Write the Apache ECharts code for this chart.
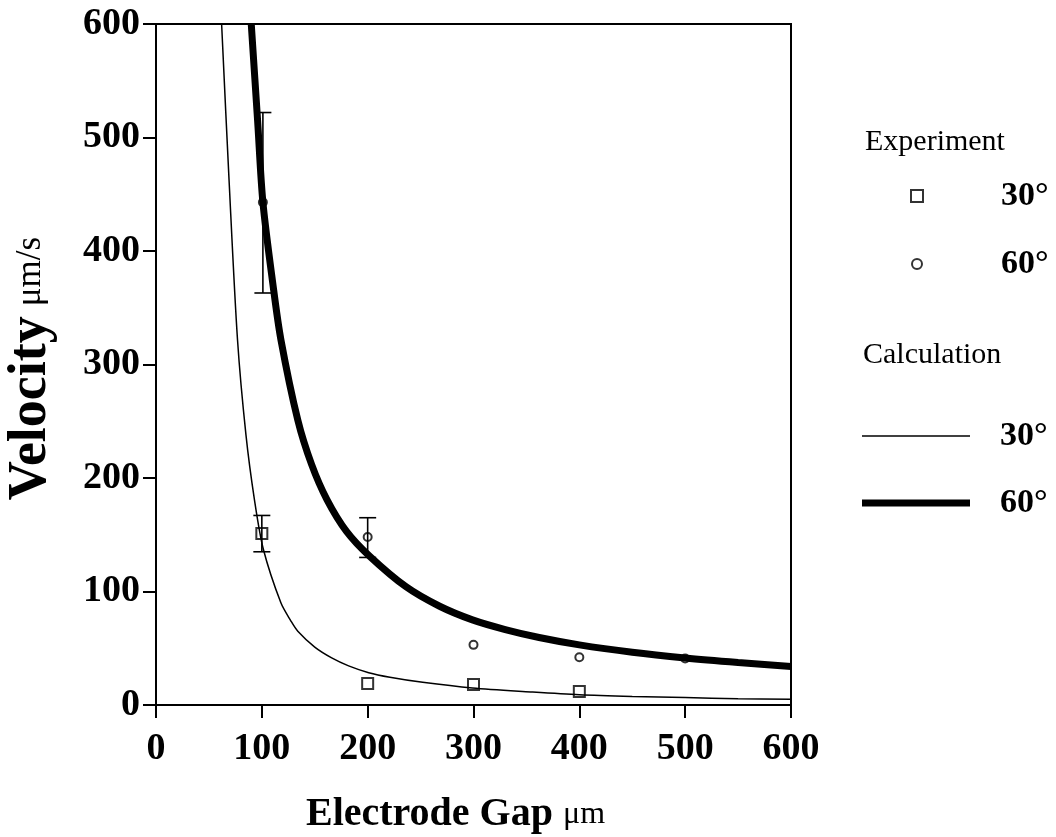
<!DOCTYPE html>
<html>
<head>
<meta charset="utf-8">
<script src="https://cdn.jsdelivr.net/npm/echarts@6/dist/echarts.min.js"></script>
<style>
html,body{margin:0;padding:0;background:#fff;}
#c{width:1056px;height:837px;}
</style>
</head>
<body>
<div id="c"></div>
<script>
// ---- data ----
const exp30X = [100, 200, 300, 400];
const exp30Y = [151, 19, 18, 12];
const exp60X = [101, 200, 300, 400, 500];
const exp60Y = [443, 148, 53, 42, 41];
const err30X = [100];
const err30Lo = [135];
const err30Hi = [167];
const err60X = [101, 200];
const err60Lo = [363, 130];
const err60Hi = [522, 165];
const calc30X = [62, 69, 77, 85, 93, 101.5, 118, 127.5, 134, 150, 166, 182, 201, 221, 252, 299, 354, 400, 450, 500, 550, 600];
const calc30Y = [600, 463, 322, 238, 181, 137, 90, 74, 65, 51, 41.5, 34.5, 28.5, 24.5, 20, 15, 11.5, 9, 7.5, 6.5, 5.6, 5];
const calc60X = [90, 96, 101, 110.7, 118, 134, 147, 161.5, 180, 202, 236.5, 268, 299, 330, 362, 400, 450, 500, 550, 600];
const calc60Y = [600, 515, 443, 369, 322, 251, 212, 181, 153, 131, 104, 87, 75, 66.5, 59.5, 53, 46.5, 41.5, 37.5, 34];
const xTicks = [0, 100, 200, 300, 400, 500, 600];

const zip = (a, b) => a.map((v, i) => [v, b[i]]);
const zip3 = (a, b, c) => a.map((v, i) => [v, b[i], c[i]]);

const serif = '"Liberation Serif", "DejaVu Serif", serif';
const chart = echarts.init(document.getElementById('c'));

function errItem(params, api) {
  const x = api.value(0);
  const lo = api.coord([x, api.value(1)]);
  const hi = api.coord([x, api.value(2)]);
  const w = 8.5;
  const st = {stroke: '#000', lineWidth: 1.6};
  return {
    type: 'group',
    children: [
      {type: 'line', shape: {x1: lo[0], y1: lo[1], x2: hi[0], y2: hi[1]}, style: st},
      {type: 'line', shape: {x1: lo[0] - w, y1: lo[1], x2: lo[0] + w, y2: lo[1]}, style: st},
      {type: 'line', shape: {x1: hi[0] - w, y1: hi[1], x2: hi[0] + w, y2: hi[1]}, style: st}
    ]
  };
}

const legText = {fontFamily: serif, fontWeight: 'bold', fontSize: 34, color: '#000'};

chart.setOption({
  backgroundColor: '#fff',
  animation: false,
  grid: {left: 156, right: 265, top: 24, bottom: 132, show: true, borderColor: '#000', borderWidth: 2,
         containLabel: false, outerBoundsMode: 'none'},
  title: [
    {text: 'Experiment', left: 860, top: 122, textStyle: {fontFamily: serif, fontWeight: 'normal', fontSize: 30, color: '#000'}},
    {text: 'Calculation', left: 858, top: 335, textStyle: {fontFamily: serif, fontWeight: 'normal', fontSize: 30, color: '#000'}}
  ],
  legend: [
    {data: ['Experiment 30°'], left: 905, top: 174, itemWidth: 12, itemHeight: 12, formatter: () => '30°',
     textStyle: Object.assign({padding: [0, 0, 0, 73]}, legText)},
    {data: ['Experiment 60°'], left: 906, top: 242, itemWidth: 10, itemHeight: 10, formatter: () => '60°',
     textStyle: Object.assign({padding: [0, 0, 0, 74]}, legText)},
    {data: [{name: 'Calculation 30°', icon: 'rect'}], left: 857, top: 414, itemWidth: 108, itemHeight: 1.6,
     itemStyle: {color: '#000', borderWidth: 0}, formatter: () => '30°',
     textStyle: Object.assign({padding: [0, 0, 0, 25]}, legText)},
    {data: [{name: 'Calculation 60°', icon: 'rect'}], left: 857, top: 481, itemWidth: 108, itemHeight: 7,
     itemStyle: {color: '#000', borderWidth: 0}, formatter: () => '60°',
     textStyle: Object.assign({padding: [0, 0, 0, 25]}, legText)}
  ],
  xAxis: {
    type: 'value', min: 0, max: 600, interval: 100,
    name: '{b|Electrode Gap}   {r|μm}', nameLocation: 'middle', nameGap: 90,
    nameTextStyle: {padding: [0, 36, 0, 0], rich: {
      b: {fontFamily: serif, fontWeight: 'bold', fontSize: 40, color: '#000'},
      r: {fontFamily: serif, fontWeight: 'normal', fontSize: 32, color: '#000'}
    }},
    axisLine: {lineStyle: {color: '#000', width: 2}},
    axisTick: {inside: false, length: 13, lineStyle: {color: '#000', width: 2}},
    axisLabel: {fontFamily: serif, fontWeight: 'bold', fontSize: 38, color: '#000', margin: 25,
      customValues: xTicks},
    splitLine: {show: false}
  },
  yAxis: {
    type: 'value', min: 0, max: 600, interval: 100,
    name: '{b|Velocity}   {r|μm/s}', nameLocation: 'middle', nameGap: 98,
    nameTextStyle: {padding: [0, 8, 0, 0], rich: {
      b: {fontFamily: serif, fontWeight: 'bold', fontSize: 54, color: '#000'},
      r: {fontFamily: serif, fontWeight: 'normal', fontSize: 35, color: '#000'}
    }},
    axisLine: {lineStyle: {color: '#000', width: 2}},
    axisTick: {inside: false, length: 13, lineStyle: {color: '#000', width: 2}},
    axisLabel: {fontFamily: serif, fontWeight: 'bold', fontSize: 38, color: '#000', margin: 16},
    splitLine: {show: false}
  },
  series: [
    {name: 'Calculation 30°', type: 'line', data: zip(calc30X, calc30Y), symbol: 'none',
     smooth: 0.3, clip: true, lineStyle: {color: '#000', width: 1.5}, itemStyle: {color: '#000'}, z: 2},
    {name: 'Calculation 60°', type: 'line', data: zip(calc60X, calc60Y), symbol: 'none',
     smooth: 0.3, clip: true, lineStyle: {color: '#000', width: 7}, itemStyle: {color: '#000'}, z: 2},
    {name: 'err30', type: 'custom', data: zip3(err30X, err30Lo, err30Hi), renderItem: errItem, z: 3},
    {name: 'err60', type: 'custom', data: zip3(err60X, err60Lo, err60Hi), renderItem: errItem, z: 3},
    {name: 'Experiment 30°', type: 'scatter', data: zip(exp30X, exp30Y), symbol: 'rect', symbolSize: 11,
     itemStyle: {color: 'rgba(0,0,0,0)', borderColor: '#000', borderWidth: 2}, z: 4},
    {name: 'Experiment 60°', type: 'scatter', data: zip(exp60X, exp60Y), symbol: 'circle', symbolSize: 8,
     itemStyle: {color: 'rgba(0,0,0,0)', borderColor: '#000', borderWidth: 2}, z: 4}
  ]
});
</script>
</body>
</html>
